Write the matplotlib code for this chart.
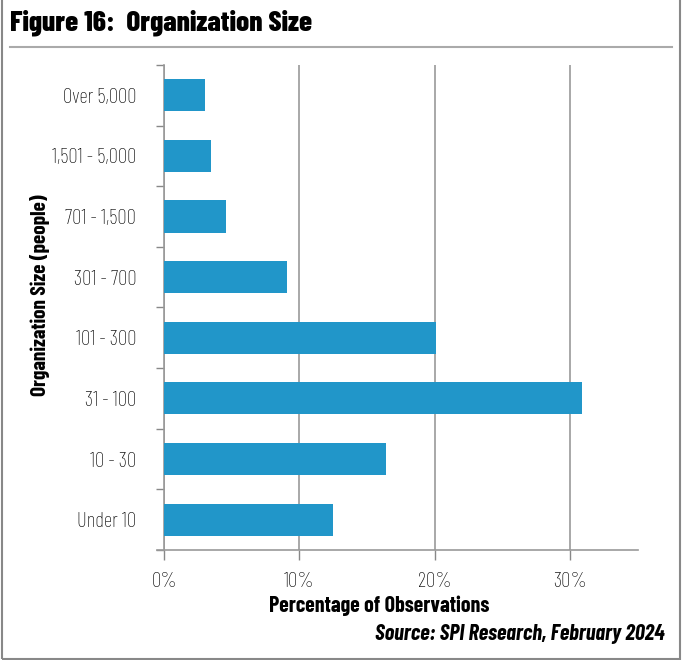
import matplotlib.pyplot as plt
from matplotlib.patches import Rectangle
from matplotlib.lines import Line2D
from matplotlib.ticker import FixedLocator, PercentFormatter

# organization size buckets, top to bottom
sizes = ['Over 5,000', '1,501 - 5,000', '701 - 1,500', '301 - 700',
         '101 - 300', '31 - 100', '10 - 30', 'Under 10']
pct = [3.0, 3.5, 4.6, 9.1, 20.1, 30.9, 16.4, 12.5]

narrow = ['Barlow Condensed', 'Roboto Condensed', 'DejaVu Sans']
blue = '#2196c9'

fig = plt.figure(figsize=(6.82, 6.6), dpi=100)
ax = fig.add_axes([0.2405, 0.1667, 0.695, 0.7348])

ypos = list(range(len(sizes)))[::-1]
ax.barh(ypos, pct, height=0.53, color=blue, zorder=3)
ax.set_ylim(-0.5, len(sizes) - 0.5)
ax.set_xlim(0, 35)

ax.set_yticks(ypos)
ax.set_yticklabels(sizes, family=narrow, fontsize=15, fontweight='light')
ax.yaxis.set_minor_locator(FixedLocator([i - 0.5 for i in range(len(sizes) + 1)]))
ax.tick_params(axis='y', which='major', length=0, pad=20)
ax.tick_params(axis='y', which='minor', length=6, color='#888888', width=1)

ax.set_xticks([0, 10, 20, 30])
ax.xaxis.set_major_formatter(PercentFormatter(decimals=0))
ax.tick_params(axis='x', length=7, color='#888888', width=1, pad=9, labelsize=15)
for t in ax.get_xticklabels():
    t.set_family(narrow)
    t.set_fontweight('light')

ax.grid(axis='x', color='#999999', linewidth=1.2, zorder=0)
for s in ['top', 'right']:
    ax.spines[s].set_visible(False)
ax.spines['left'].set_color('#999999')
ax.spines['bottom'].set_color('#999999')
ax.spines['bottom'].set_bounds(-0.5, 35)
ax.spines['left'].set_linewidth(1.2)
ax.spines['bottom'].set_linewidth(1.2)

fig.text(0.556, 0.082, 'Percentage of Observations', family=narrow, fontsize=15.8,
         fontweight='bold', ha='center', va='center')
fig.text(0.058, 0.553, 'Organization Size (people)', family=narrow, fontsize=15.3,
         fontweight='bold', rotation=90, ha='center', va='center')

fig.text(0.015, 0.966, 'Figure 16:  Organization Size', family=narrow, fontsize=21,
         fontweight='heavy', ha='left', va='center')
fig.add_artist(Line2D([0.015, 0.985], [0.929, 0.929], transform=fig.transFigure,
                      color='#aaaaaa', linewidth=1.5))
fig.text(0.975, 0.039, 'Source: SPI Research, February 2024', family=narrow,
         fontsize=16, fontweight='bold', style='italic', ha='right', va='center')

fig.add_artist(Rectangle((0.003, 0.002), 0.994, 1.1, transform=fig.transFigure,
                         fill=False, edgecolor='#888888', linewidth=1.5))

fig.savefig('out.png', dpi=100)
